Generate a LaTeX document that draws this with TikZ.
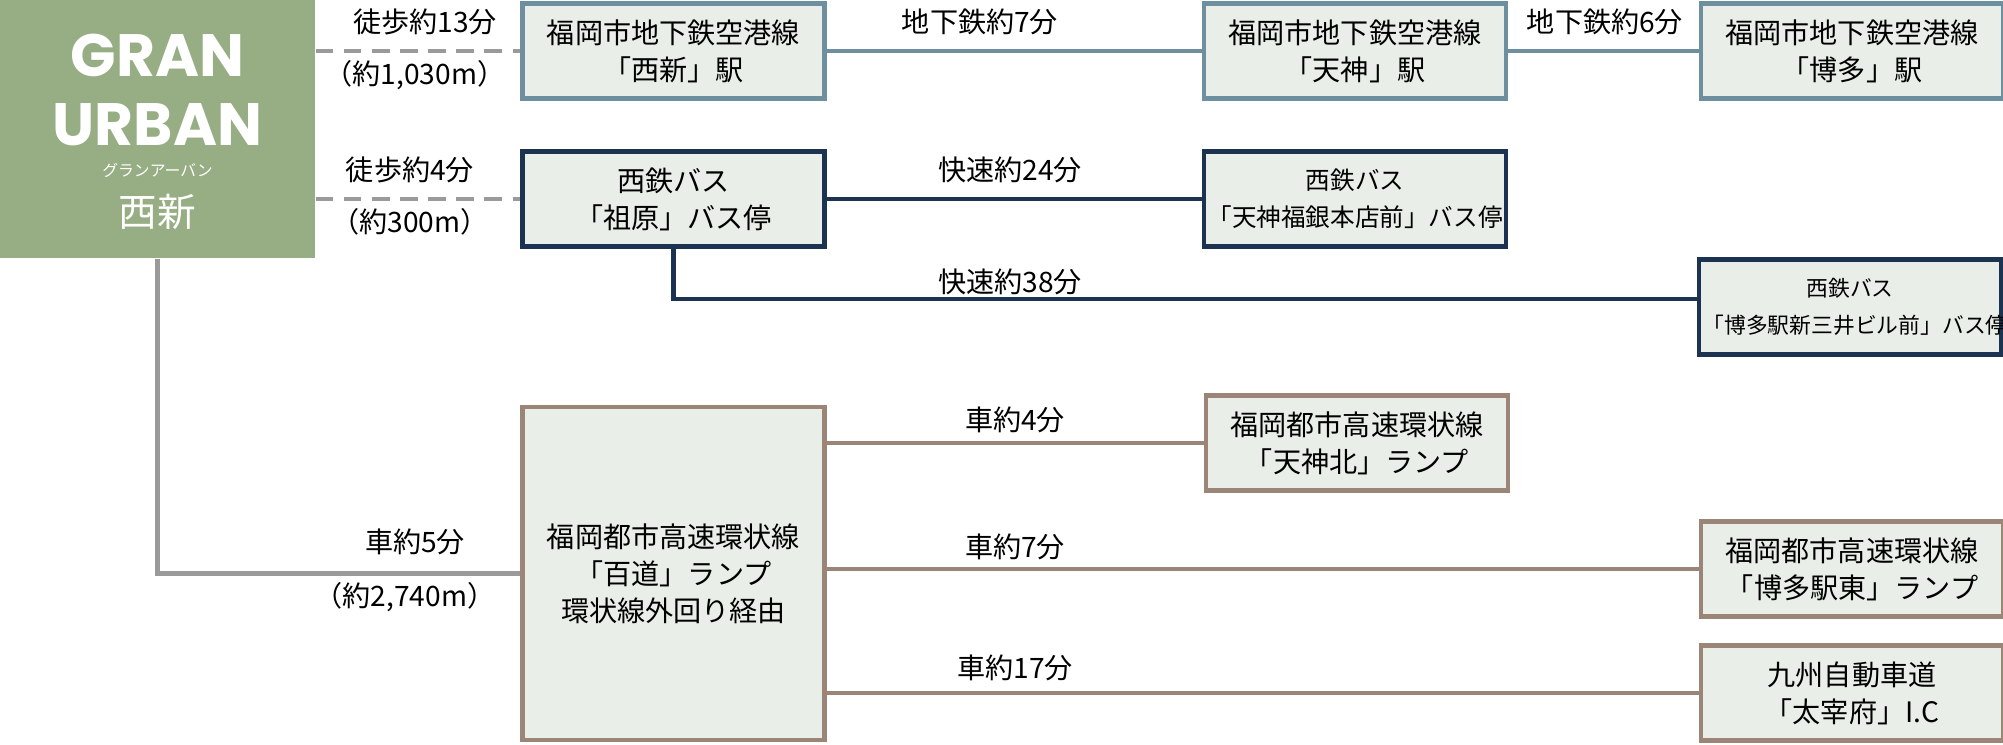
\documentclass[tikz,border=0pt]{standalone}
\usepackage{fontspec}
\newfontfamily\jpfont{Noto Sans CJK JP}
\newfontfamily\logofont{Poppins}
\usetikzlibrary{positioning}
\definecolor{granGreen}{HTML}{97AD84}
\definecolor{boxFill}{HTML}{E9EFE8}
\definecolor{railBlue}{HTML}{6E8FA0}
\definecolor{busNavy}{HTML}{1B3350}
\definecolor{roadTaupe}{HTML}{9B8576}
\definecolor{walkGrey}{HTML}{9A9A9A}
\tikzset{
  stationbox/.style={draw, line width=1.3pt, fill=boxFill, text width=2.95cm,
    minimum height=0.95cm, align=center, inner sep=1pt,
    font=\jpfont\fontsize{8}{10.5}\selectfont},
  narrowtext/.style={font=\jpfont\fontsize{7}{10.5}\selectfont},
  tinytext/.style={font=\jpfont\fontsize{6.2}{10.5}\selectfont},
  lbl/.style={font=\jpfont\fontsize{8}{10}\selectfont, inner sep=1pt},
  walk/.style={walkGrey, line width=1.4pt, dashed, dash pattern=on 5pt off 3pt},
  link/.style={line width=1.4pt}
}
\begin{document}
\begin{tikzpicture}
\useasboundingbox (0,0) rectangle (20.03,-7.44);

% start
\node[fill=granGreen, minimum width=3.15cm, minimum height=2.58cm, inner sep=0pt] (gran) at (1.575,-1.29) {};
\node[white, font=\logofont\bfseries\fontsize{17}{17}\selectfont] (granA) at (1.575,-0.55) {GRAN};
\node[white, font=\logofont\bfseries\fontsize{17}{17}\selectfont] (granB) at (1.575,-1.25) {URBAN};
\node[white, font=\jpfont\fontsize{4.5}{5}\selectfont] (granC) at (1.575,-1.7) {グランアーバン};
\node[white, font=\jpfont\fontsize{11}{12}\selectfont] (granD) at (1.575,-2.12) {西新};

% subway
\node[stationbox, draw=railBlue] (rail1) at (6.735,-0.51) {福岡市地下鉄空港線\\「西新」駅};
\node[stationbox, draw=railBlue] (rail2) at (13.55,-0.51) {福岡市地下鉄空港線\\「天神」駅};
\node[stationbox, draw=railBlue] (rail3) at (18.52,-0.51) {福岡市地下鉄空港線\\「博多」駅};
\draw[walk] (gran.east |- rail1.west) -- (rail1.west);
\draw[link, railBlue] (rail1) -- (rail2);
\draw[link, railBlue] (rail2) -- (rail3);
\node[lbl] (w1) at (4.25,-0.22) {徒歩約13分};
\node[lbl] (w1d) at (4.15,-0.75) {（約1,030m）};
\node[lbl] (t1) at (9.8,-0.22) {地下鉄約7分};
\node[lbl] (t2) at (16.05,-0.22) {地下鉄約6分};

% bus
\node[stationbox, draw=busNavy] (bus1) at (6.735,-1.99) {西鉄バス\\「祖原」バス停};
\node[stationbox, draw=busNavy, narrowtext] (bus2) at (13.55,-1.99) {西鉄バス\\「天神福銀本店前」バス停};
\node[stationbox, draw=busNavy, tinytext] (bus3) at (18.5,-3.07) {西鉄バス\\「博多駅新三井ビル前」バス停};
\draw[walk] (gran.east |- bus1.west) -- (bus1.west);
\draw[link, busNavy] (bus1) -- (bus2);
\draw[link, busNavy] (bus1.south) |- ([yshift=0.08cm]bus3.west);
\node[lbl] (w2) at (4.1,-1.7) {徒歩約4分};
\node[lbl] (w2d) at (4.1,-2.22) {（約300m）};
\node[lbl] (b1) at (10.1,-1.7) {快速約24分};
\node[lbl] (b2) at (10.1,-2.82) {快速約38分};

% highway
\node[stationbox, draw=roadTaupe, minimum height=3.33cm] (hwy) at (6.735,-5.735) {福岡都市高速環状線\\「百道」ランプ\\環状線外回り経由};
\node[stationbox, draw=roadTaupe] (ramp1) at (13.57,-4.43) {福岡都市高速環状線\\「天神北」ランプ};
\node[stationbox, draw=roadTaupe] (ramp2) at (18.52,-5.69) {福岡都市高速環状線\\「博多駅東」ランプ};
\node[stationbox, draw=roadTaupe] (ramp3) at (18.52,-6.93) {九州自動車道\\「太宰府」I.C};
\draw[link, walkGrey] (gran.south) |- (hwy.west);
\draw[link, roadTaupe] (hwy.east |- ramp1.west) -- (ramp1.west);
\draw[link, roadTaupe] (hwy.east |- ramp2.west) -- (ramp2.west);
\draw[link, roadTaupe] (hwy.east |- ramp3.west) -- (ramp3.west);
\node[lbl] (c0) at (4.15,-5.42) {車約5分};
\node[lbl] (c0d) at (4.05,-5.97) {（約2,740m）};
\node[lbl] (c1) at (10.15,-4.2) {車約4分};
\node[lbl] (c2) at (10.15,-5.47) {車約7分};
\node[lbl] (c3) at (10.15,-6.68) {車約17分};
\end{tikzpicture}
\end{document}
